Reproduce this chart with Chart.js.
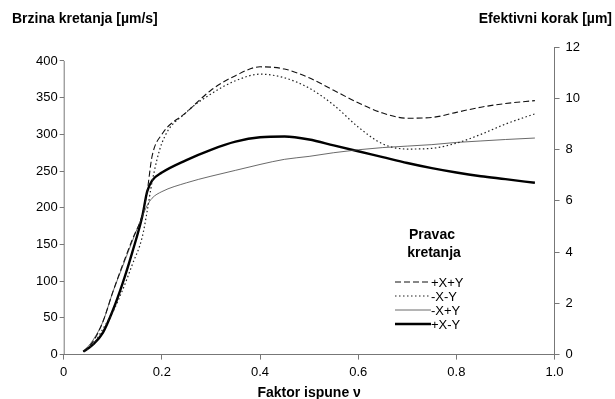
<!DOCTYPE html>
<html><head><meta charset="utf-8">
<script src="https://cdn.jsdelivr.net/npm/chart.js@4/dist/chart.umd.min.js"></script>
<style>html,body{margin:0;padding:0;background:#fff}#wrap{width:615px;height:399px}</style>
</head><body><div id="wrap"><canvas id="c" width="615" height="399"></canvas></div>
<script>
const fillFactor = [0.04,0.06,0.08,0.10,0.12,0.14,0.16,0.17,0.18,0.20,0.25,0.30,0.35,0.40,0.45,0.50,0.55,0.60,0.65,0.70,0.75,0.80,0.85,0.90,0.96];
const seriesPXPY = [4,18,45,85,122,157,190,222,270,300,330,360,380,392,389,377,360,343,329,322,323,330,337,342,346];
const seriesMXMY = [4,14,35,58,88,123,160,195,235,288,330,355,373,382,377,363,340,310,287,280,281,288,300,314,328];
const seriesMXPY = [4,20,45,85,120,155,188,203,213,222,234,243,251,259,266,270,275,279,282,284,286,289,291,293,295];
const seriesPXMY = [4,14,30,60,97,140,188,222,237,248,265,279,290,296,297,293,285,277,269,261,254,248,243,239,234];
const seriesLabels = ['+X+Y','-X-Y','-X+Y','+X-Y'];
const leftTicks = [0,50,100,150,200,250,300,350,400];
const rightTicks = [0,2,4,6,8,10,12];
const xTicks = [0,0.2,0.4,0.6,0.8,1.0];

const FONT = 'Liberation Sans, Arial, sans-serif';
const pts = arr => arr.map((v,i)=>({x:fillFactor[i], y:v}));
const styles = [
  {borderDash:[6,3], borderWidth:1.1, borderColor:'#111'},
  {borderDash:[1.5,2.5], borderWidth:1.2, borderColor:'#222'},
  {borderDash:[], borderWidth:0.8, borderColor:'#444'},
  {borderDash:[], borderWidth:2.4, borderColor:'#000'}
];
const datasets = [seriesPXPY,seriesMXMY,seriesMXPY,seriesPXMY].map((d,i)=>Object.assign({
  label: seriesLabels[i], data: pts(d), yAxisID:'y', pointRadius:0, fill:false,
  cubicInterpolationMode:'monotone'
}, styles[i]));

const deco = {
  id:'deco',
  afterDraw(chart){
    const ctx = chart.ctx, y = chart.scales.y, x = chart.scales.x;
    ctx.save();
    ctx.strokeStyle = '#777'; ctx.lineWidth = 1;
    ctx.beginPath();
    ctx.moveTo(x.left+0.5, y.getPixelForValue(0));
    ctx.lineTo(x.left+0.5, y.getPixelForValue(400));
    ctx.stroke();
    ctx.fillStyle = '#000';
    ctx.font = 'bold 14px ' + FONT;
    ctx.textBaseline = 'middle';
    ctx.textAlign = 'left';
    ctx.fillText('Brzina kretanja [\u00b5m/s]', 12, 19);
    ctx.textAlign = 'right';
    ctx.fillText('Efektivni korak [\u00b5m]', 612, 19);
    ctx.textAlign = 'center';
    ctx.fillText('Pravac', 432, 235);
    ctx.fillText('kretanja', 434, 253);
    ctx.font = '13px ' + FONT;
    ctx.textAlign = 'left';
    chart.data.datasets.forEach((ds,i)=>{
      const yy = 282 + i*14;
      ctx.strokeStyle = ds.borderColor; ctx.lineWidth = ds.borderWidth;
      ctx.setLineDash(ds.borderDash);
      ctx.beginPath(); ctx.moveTo(395, yy); ctx.lineTo(431, yy); ctx.stroke();
      ctx.setLineDash([]);
      ctx.fillText(ds.label, 431, yy+1);
    });
    ctx.restore();
  }
};

new Chart(document.getElementById('c'), {
  type:'line',
  data:{datasets},
  options:{
    responsive:false, animation:false, devicePixelRatio:1,
    layout:{padding:{top:47, left:34, right:29, bottom:0}},
    plugins:{legend:{display:false}, tooltip:{enabled:false}},
    scales:{
      x:{type:'linear', min:0, max:1,
        afterBuildTicks(s){ s.ticks = xTicks.map(v=>({value:v})); },
        grid:{display:true, drawOnChartArea:false, drawTicks:true, tickLength:5, color:'#777'},
        border:{display:true, color:'#777', width:1},
        ticks:{color:'#000', font:{family:FONT, size:13}, padding:5, maxRotation:0,
          callback:v=> v===0 ? '0' : v.toFixed(1)},
        title:{display:true, text:'Faktor ispune \u03bd', color:'#000', font:{family:FONT, size:14, weight:'bold'}, padding:{top:0,bottom:-3}}
      },
      y:{type:'linear', position:'left', min:0, max:419,
        afterBuildTicks(s){ s.ticks = leftTicks.map(v=>({value:v})); },
        grid:{display:true, drawOnChartArea:false, drawTicks:true, tickLength:4, color:'#777'},
        border:{display:false},
        ticks:{color:'#000', font:{family:FONT, size:13}, padding:2}
      },
      y2:{type:'linear', position:'right', min:0, max:12,
        afterBuildTicks(s){ s.ticks = rightTicks.map(v=>({value:v})); },
        grid:{display:true, drawOnChartArea:false, drawTicks:true, tickLength:5, color:'#777'},
        border:{display:true, color:'#777', width:1},
        ticks:{color:'#000', font:{family:FONT, size:13}, padding:6}
      }
    }
  },
  plugins:[deco]
});
</script></body></html>
